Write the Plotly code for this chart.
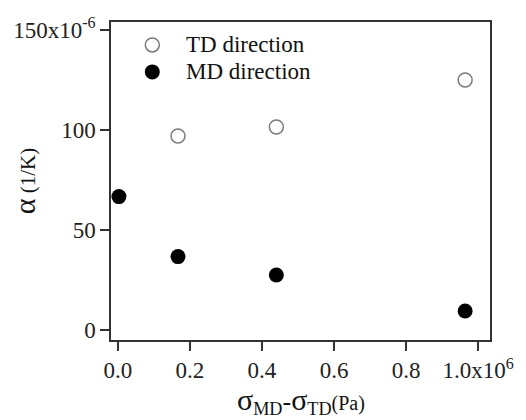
import plotly.graph_objects as go

# data (x in 1e6 Pa, y in 1e-6 1/K)
td_x = [0.167, 0.44, 0.964]
td_y = [97, 101.5, 125]
md_x = [0.003, 0.167, 0.44, 0.964]
md_y = [66.7, 36.7, 27.5, 9.5]

x_tickvals = [0.0, 0.2, 0.4, 0.6, 0.8, 1.0]
x_ticktext = ["0.0", "0.2", "0.4", "0.6", "0.8", "1.0x10<sup>6</sup>"]
y_tickvals = [0, 50, 100, 150]
y_ticktext = ["0", "50", "100", "150x10<sup>-6</sup>"]
legend_names = ["TD direction", "MD direction"]

FONT = "Liberation Serif, Times New Roman, serif"
TD_COLOR = "#7a7a7a"

fig = go.Figure()
fig.add_trace(go.Scatter(
    x=td_x, y=td_y, mode="markers", name=legend_names[0], showlegend=False,
    marker=dict(symbol="circle-open", size=14, color=TD_COLOR, line=dict(width=1.5, color=TD_COLOR)),
))
fig.add_trace(go.Scatter(
    x=md_x, y=md_y, mode="markers", name=legend_names[1], showlegend=False,
    marker=dict(symbol="circle", size=15, color="black"),
))

axis_common = dict(
    showline=True, linecolor="#333", linewidth=1.5, mirror=True,
    ticks="outside", ticklen=9, tickwidth=1.5, tickcolor="#333",
    showgrid=False, zeroline=False,
    tickfont=dict(family=FONT, size=23, color="#222"),
)

fig.update_xaxes(range=[-0.019, 1.033], tickvals=x_tickvals, ticktext=x_ticktext, **axis_common)
fig.update_yaxes(range=[-5, 154], tickvals=y_tickvals, ticktext=y_ticktext, **axis_common)

# legend drawn manually for exact row spacing
leg_x_sym = 0.109
leg_x_txt = 0.192
leg_rows = [0.928, 0.843]
shapes = [
    dict(type="circle", xref="paper", yref="paper", xsizemode="pixel", ysizemode="pixel",
         xanchor=leg_x_sym, yanchor=leg_rows[0], x0=-7, x1=7, y0=-7, y1=7,
         line=dict(color=TD_COLOR, width=1.5), fillcolor="rgba(0,0,0,0)"),
    dict(type="circle", xref="paper", yref="paper", xsizemode="pixel", ysizemode="pixel",
         xanchor=leg_x_sym, yanchor=leg_rows[1], x0=-7.5, x1=7.5, y0=-7.5, y1=7.5,
         line=dict(color="black", width=0), fillcolor="black"),
]
annotations = [
    dict(text=legend_names[i], xref="paper", yref="paper", x=leg_x_txt, y=leg_rows[i],
         xanchor="left", yanchor="middle", showarrow=False,
         font=dict(family=FONT, size=23, color="#111"))
    for i in range(2)
]
annotations += [
    dict(text="<span style='font-size:30px'>σ</span><sub>MD</sub>-<span style='font-size:30px'>σ</span><sub>TD</sub><span style='font-size:20px'>(Pa)</span>",
         xref="paper", yref="paper", x=0.5, y=-0.193, xanchor="center", yanchor="middle",
         showarrow=False, font=dict(family=FONT, size=26, color="#111")),
    dict(text="<span style='font-size:30px'>α</span> (1/K)",
         xref="paper", yref="paper", x=-0.229, y=0.5, xanchor="center", yanchor="middle",
         textangle=-90, showarrow=False, font=dict(family=FONT, size=21, color="#111")),
]

fig.update_layout(
    width=526, height=420,
    margin=dict(l=111, r=30, t=22, b=80),
    paper_bgcolor="white", plot_bgcolor="white",
    showlegend=False,
    font=dict(family=FONT, color="#111"),
    shapes=shapes,
    annotations=annotations,
)

fig.write_html("out.html")
